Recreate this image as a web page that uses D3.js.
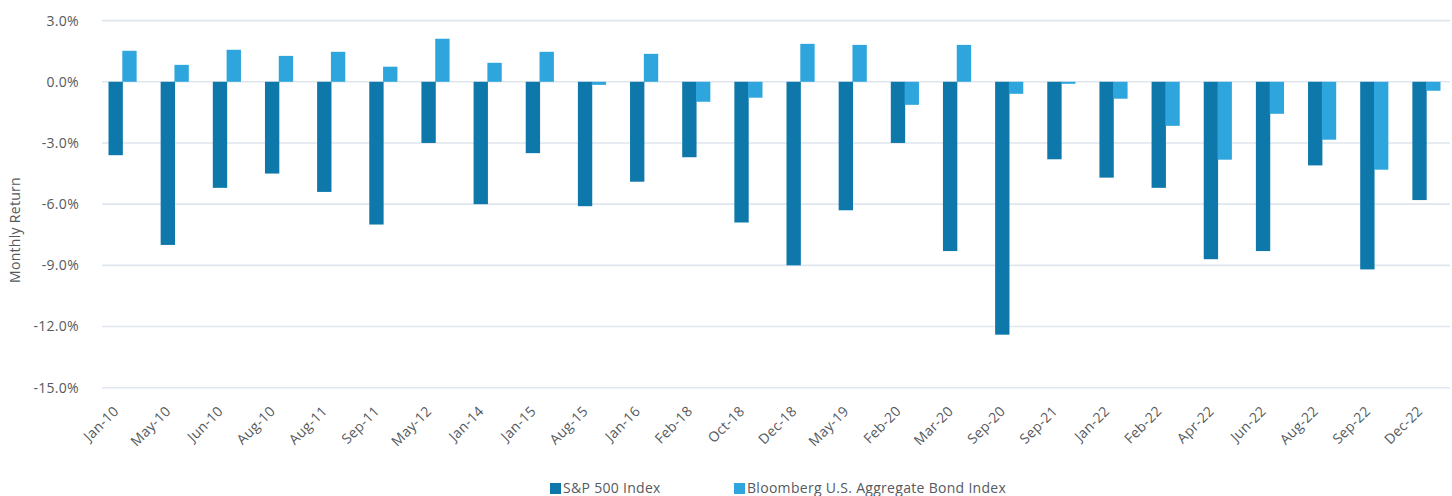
<!DOCTYPE html>
<html>
<head>
<meta charset="utf-8">
<script src="https://cdn.jsdelivr.net/npm/d3@7"></script>
<style>
  html, body { margin: 0; padding: 0; background: #fff; }
  svg text { font-family: "Open Sans", "Noto Sans", sans-serif; fill: #555a60; letter-spacing: 0.3px; }
</style>
</head>
<body>
<svg id="chart" width="1452" height="496"></svg>
<script>
// Months with the worst S&P 500 returns and the bond index return in the same month
const months = ["Jan-10", "May-10", "Jun-10", "Aug-10", "Aug-11", "Sep-11", "May-12", "Jan-14", "Jan-15",
  "Aug-15", "Jan-16", "Feb-18", "Oct-18", "Dec-18", "May-19", "Feb-20", "Mar-20", "Sep-20", "Sep-21",
  "Jan-22", "Feb-22", "Apr-22", "Jun-22", "Aug-22", "Sep-22", "Dec-22"];

const spx = [-3.6, -8.0, -5.2, -4.5, -5.4, -7.0, -3.0, -6.0, -3.5, -6.1, -4.9, -3.7, -6.9, -9.0,
  -6.3, -3.0, -8.3, -12.4, -3.8, -4.7, -5.2, -8.7, -8.3, -4.1, -9.2, -5.8];

const bonds = [1.52, 0.83, 1.57, 1.27, 1.47, 0.74, 2.11, 0.93, 1.47, -0.15, 1.37, -0.98, -0.78, 1.86,
  1.81, -1.13, 1.81, -0.59, -0.10, -0.83, -2.16, -3.82, -1.57, -2.84, -4.31, -0.44];

const seriesNames = ["S&P 500 Index", "Bloomberg U.S. Aggregate Bond Index"];
const seriesColors = ["#0e78aa", "#2ea6dd"];
const yTicks = [3, 0, -3, -6, -9, -12, -15];

const svg = d3.select("#chart");

// Scales
const x = d3.scaleBand().domain(months).range([96.5, 1452.5]).paddingInner(0).paddingOuter(0);
const xInner = d3.scaleBand().domain([0, 1]).range([0, x.bandwidth()]).paddingInner(-0.04).paddingOuter(0.87);
const y = d3.scaleLinear().domain([-15, 3]).range([387.7, 20.6]);

// plain hyphen for negatives, like the original
const pct = d => d3.format(".1f")(d).replace("\u2212", "-") + "%";

// Gridlines
svg.append("g")
    .selectAll("line")
    .data(yTicks)
    .enter()
    .append("line")
    .attr("x1", 102)
    .attr("x2", 1450)
    .attr("y1", d => y(d))
    .attr("y2", d => y(d))
    .attr("stroke", "#dfe6ee")
    .attr("stroke-width", 1.6);

// Y axis labels
svg.append("g")
    .selectAll("text")
    .data(yTicks)
    .enter()
    .append("text")
    .attr("x", 79)
    .attr("y", d => y(d))
    .attr("dy", "0.35em")
    .attr("text-anchor", "end")
    .style("font-size", "14px")
    .text(pct);

// Y axis title
svg.append("text")
    .attr("transform", "translate(20, 230) rotate(-90)")
    .attr("text-anchor", "middle")
    .style("font-size", "14px")
    .text("Monthly Return");

// Bars
const rows = months.map((m, i) => ({ month: m, values: [spx[i], bonds[i]] }));

const groups = svg.append("g")
    .selectAll("g")
    .data(rows)
    .enter()
    .append("g")
    .attr("transform", d => `translate(${x(d.month)},0)`);

groups.selectAll("rect")
    .data(d => d.values.map((v, k) => ({ v, k })))
    .enter()
    .append("rect")
    .attr("x", d => xInner(d.k))
    .attr("width", xInner.bandwidth())
    .attr("y", d => y(Math.max(0, d.v)))
    .attr("height", d => Math.abs(y(d.v) - y(0)))
    .attr("fill", d => seriesColors[d.k]);

// X axis labels
svg.append("g")
    .selectAll("text")
    .data(months)
    .enter()
    .append("text")
    .attr("transform", d => `translate(${x(d) + x.bandwidth() / 2 - 3},${412}) rotate(-45)`)
    .attr("text-anchor", "end")
    .style("font-size", "14px")
    .text(d => d);

// Legend
const legendPos = [550, 734];
const legend = svg.append("g")
    .selectAll("g")
    .data(seriesNames)
    .enter()
    .append("g")
    .attr("transform", (d, i) => `translate(${legendPos[i]},483)`);

legend.append("rect")
    .attr("width", 11)
    .attr("height", 11)
    .attr("fill", (d, i) => seriesColors[i]);

legend.append("text")
    .attr("x", 13)
    .attr("y", 5.5)
    .attr("dy", "0.35em")
    .style("font-size", "14px")
    .text(d => d);
</script>
</body>
</html>
